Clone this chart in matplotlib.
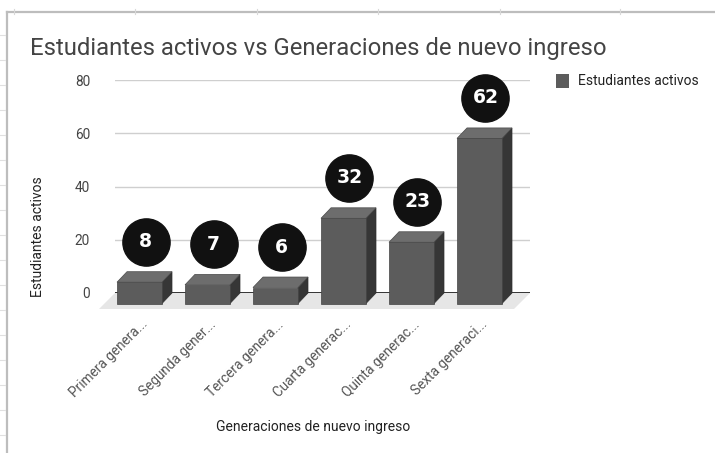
import matplotlib
matplotlib.use("Agg")
import matplotlib.pyplot as plt
from matplotlib.patches import Polygon
from matplotlib.transforms import ScaledTranslation
import numpy as np

plt.rcParams['font.family'] = ['Roboto', 'DejaVu Sans']

title = "Estudiantes activos vs Generaciones de nuevo ingreso"
categories = ["Primera genera...", "Segunda gener...", "Tercera genera...",
              "Cuarta generac...", "Quinta generac...", "Sexta generaci..."]
values = [8, 7, 6, 32, 23, 62]
yticks = [0, 20, 40, 60, 80]
series_name = "Estudiantes activos"
xlabel = "Generaciones de nuevo ingreso"
ylabel = "Estudiantes activos"

W, H = 715, 453
DPI = 100
fig = plt.figure(figsize=(W / DPI, H / DPI), dpi=DPI)

def fx(px):
    return px / W

def fy(py):
    return (H - py) / H

# axes = back plane of the 3D chart
left_px, right_px, top_px, bot_px = 115, 530, 80, 293
ax = fig.add_axes([fx(left_px), fy(bot_px), fx(right_px - left_px), (bot_px - top_px) / H])
x = np.arange(len(values))
step_px = 68.0
x0 = -(149.5 - left_px) / step_px
ax.set_xlim(x0, x0 + (right_px - left_px) / step_px)
ax.set_ylim(0, 80)
for s in ax.spines.values():
    s.set_visible(False)
ax.set_facecolor('none')

# pixel -> data conversion for depth offsets
def px_to_data(dxp, dyp):
    p0 = ax.transData.transform((0, 0))
    p1 = ax.transData.inverted().transform((p0[0] + dxp, p0[1] + dyp))
    return p1[0], p1[1]

# floor
fdx, fdy = px_to_data(16, 16)
xl, xr = ax.get_xlim()
floor = Polygon([(xl, 0), (xr, 0), (xr - fdx, -fdy), (xl - fdx, -fdy)],
                closed=True, facecolor='#e6e6e6', edgecolor='none', clip_on=False, zorder=0)
ax.add_patch(floor)

# gridlines
for t in yticks[1:]:
    ax.axhline(t, color='#cfcfcf', lw=1.0, zorder=1)
ax.axhline(0, color='#333333', lw=1.4, zorder=2)

# 3D bars
bw = 45 / step_px
ddx, ddy = px_to_data(10, 10.5)
for xi, v in zip(x, values):
    l, r = xi - bw / 2, xi + bw / 2
    side = Polygon([(r - ddx, -ddy), (r, 0), (r, v), (r - ddx, v - ddy)], closed=True,
                   facecolor='#363636', edgecolor='#2e2e2e', lw=0.5, clip_on=False, zorder=3)
    top = Polygon([(l - ddx, v - ddy), (r - ddx, v - ddy), (r, v), (l, v)], closed=True,
                  facecolor='#6d6d6d', edgecolor='#4a4a4a', lw=0.5, clip_on=False, zorder=3)
    front = Polygon([(l - ddx, -ddy), (r - ddx, -ddy), (r - ddx, v - ddy), (l - ddx, v - ddy)],
                    closed=True, facecolor='#5c5c5c', edgecolor='#444444', lw=0.5,
                    clip_on=False, zorder=4)
    ax.add_patch(side)
    ax.add_patch(top)
    ax.add_patch(front)

# circular value labels
lab_off = ScaledTranslation(-4 / DPI, 30 / DPI, fig.dpi_scale_trans)
ax.plot(x, values, 'o', ms=34, color='#111111', transform=ax.transData + lab_off,
        clip_on=False, zorder=6)
for xi, v in zip(x, values):
    ax.text(xi, v, str(v), transform=ax.transData + lab_off, ha='center', va='center',
            color='white', fontsize=13.5, fontweight='bold', family='DejaVu Sans',
            zorder=7, clip_on=False)

# y ticks
ax.set_yticks(yticks)
ax.set_yticklabels([str(t) for t in yticks])
ax.tick_params(axis='y', length=0, pad=18, labelsize=9.8, labelcolor='#444444')

# x ticks
ax.set_xticks(x)
ax.set_xticklabels(categories, rotation=45, ha='right', va='center', rotation_mode='anchor')
ax.tick_params(axis='x', length=0, pad=21, labelsize=9.8, labelcolor='#555555')
xoff = ScaledTranslation(-4 / DPI, 0, fig.dpi_scale_trans)
for lab in ax.get_xticklabels():
    lab.set_transform(lab.get_transform() + xoff)

# titles
fig.text(fx(30), fy(55), title, fontsize=17.2, color='#444444', ha='left', va='baseline')
fig.text(fx(313), fy(427), xlabel, fontsize=10, color='#222222', ha='center', va='center')
fig.text(fx(38), fy(237), ylabel, fontsize=10, color='#222222', ha='center', va='center',
         rotation=90)

# legend
fig.add_artist(plt.Rectangle((fx(556), fy(88)), fx(13), 14 / H,
                             transform=fig.transFigure, facecolor='#5c5c5c',
                             edgecolor='none'))
fig.text(fx(578), fy(81), series_name, fontsize=10, color='#222222', ha='left', va='center')

# sheet frame
fig.add_artist(plt.Line2D([fx(7), 1], [fy(12), fy(12)], color='#bdbdbd', lw=1.6,
                          transform=fig.transFigure))
fig.add_artist(plt.Line2D([fx(7), fx(7)], [fy(12), 0], color='#bdbdbd', lw=1.6,
                          transform=fig.transFigure))
for yy in range(35, H, 25):
    fig.add_artist(plt.Line2D([0, fx(5)], [fy(yy), fy(yy)], color='#e0e0e0', lw=0.8,
                              transform=fig.transFigure))
for xx in [14, 135, 257, 378, 500, 620]:
    fig.add_artist(plt.Line2D([fx(xx), fx(xx)], [fy(9), fy(14)], color='#d8d8d8', lw=0.8,
                              transform=fig.transFigure))

fig.savefig("out.png", dpi=DPI)
